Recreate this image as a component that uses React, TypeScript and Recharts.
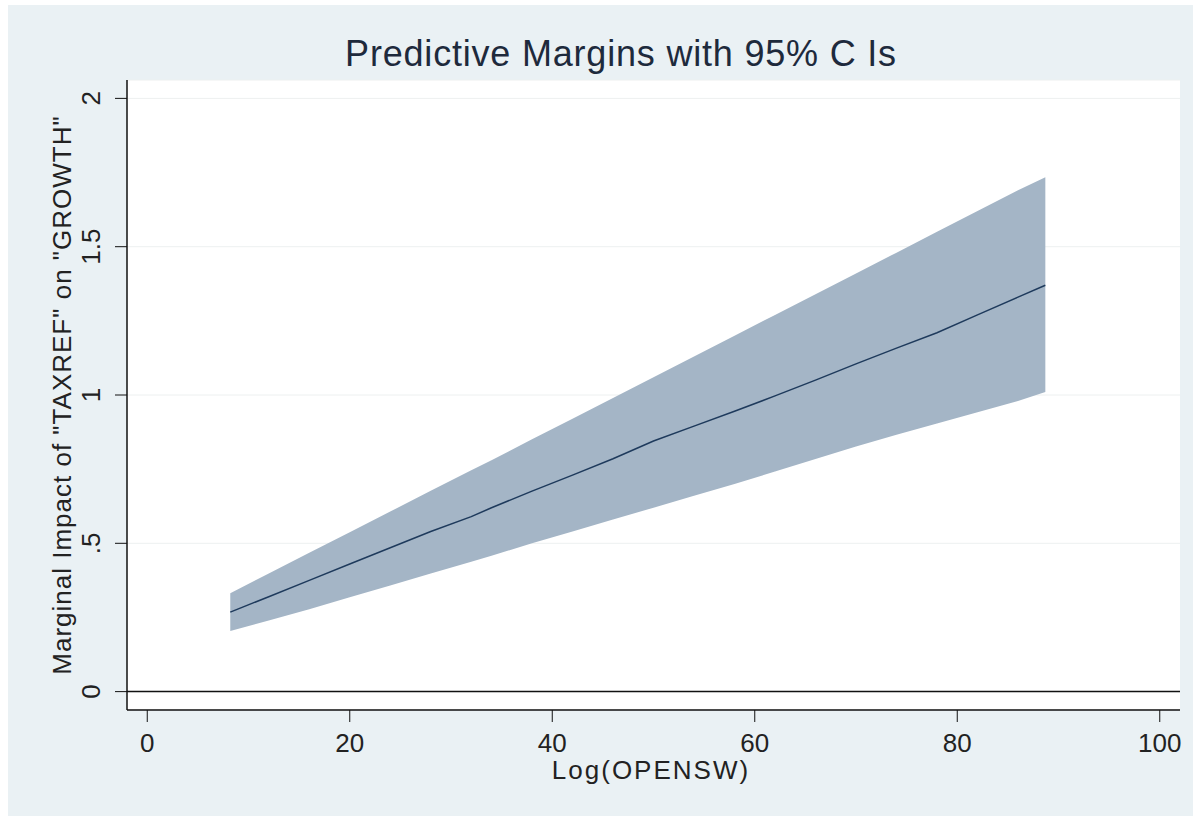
import {
  Area,
  CartesianGrid,
  ComposedChart,
  Line,
  ReferenceLine,
  XAxis,
  YAxis,
} from "recharts";

// values
const openness = [8.2, 12, 16, 20, 24, 28, 32, 34, 38, 42, 46, 50, 54, 58, 62, 66, 70, 74, 78, 82, 86, 88.7];
const margin = [0.268, 0.32, 0.375, 0.43, 0.485, 0.54, 0.59, 0.62, 0.676, 0.73, 0.785, 0.845, 0.895, 0.945, 0.997, 1.05, 1.105, 1.158, 1.21, 1.27, 1.33, 1.37];
const ciUpper = [0.332, 0.398, 0.468, 0.537, 0.607, 0.677, 0.746, 0.78, 0.851, 0.92, 0.99, 1.06, 1.13, 1.2, 1.27, 1.34, 1.41, 1.48, 1.55, 1.62, 1.69, 1.734];
const ciLower = [0.204, 0.24, 0.278, 0.318, 0.358, 0.398, 0.438, 0.458, 0.5, 0.54, 0.58, 0.62, 0.66, 0.7, 0.742, 0.784, 0.826, 0.866, 0.904, 0.942, 0.98, 1.01];

const xTicks = [0, 20, 40, 60, 80, 100];
const yTicks = [0, 0.5, 1, 1.5, 2];

const data = openness.map((x, i) => ({
  x,
  margin: margin[i],
  ci: [ciLower[i], ciUpper[i]],
}));

const FONT = "'Liberation Sans', Arial, sans-serif";
const BG = "#EAF1F4";

const fmtY = (v: number) => (v === 0.5 ? ".5" : String(v));

function XTick(props: any) {
  const { x, payload } = props;
  return (
    <text x={x} y={752} textAnchor="middle" fontFamily={FONT} fontSize={26} fill="#222">
      {payload.value}
    </text>
  );
}

function YTick(props: any) {
  const { y, payload } = props;
  return (
    <text
      x={100}
      y={y}
      textAnchor="middle"
      fontFamily={FONT}
      fontSize={26}
      fill="#222"
      transform={`rotate(-90, 100, ${y})`}
    >
      {fmtY(payload.value)}
    </text>
  );
}

export default function App() {
  return (
    <div style={{ position: "absolute", left: 0, top: 0, width: 1198, height: 816, background: "#fff" }}>
      <div style={{ position: "absolute", left: 8, top: 5, width: 1185, height: 811, background: BG }} />
      <div style={{ position: "absolute", left: 0, top: 0 }}>
        <ComposedChart width={1198} height={816} data={data} margin={{ top: 80, right: 18, bottom: 76, left: 67 }}>
          <CartesianGrid fill="#fff" vertical={false} stroke="#EDF0F0" />
          <XAxis
            dataKey="x"
            type="number"
            domain={[-2, 102]}
            ticks={xTicks}
            height={30}
            tickSize={12}
            axisLine={{ stroke: "#111", strokeWidth: 1.5 }}
            tickLine={{ stroke: "#111" }}
            tick={<XTick />}
          />
          <YAxis
            type="number"
            domain={[-0.062, 2.062]}
            ticks={yTicks}
            width={60}
            tickSize={12}
            axisLine={{ stroke: "#111", strokeWidth: 1.5 }}
            tickLine={{ stroke: "#111" }}
            tick={<YTick />}
          />
          <ReferenceLine y={0} stroke="#111" strokeWidth={1.5} />
          <Area
            type="linear"
            dataKey="ci"
            stroke="none"
            fill="#A4B5C6"
            fillOpacity={1}
            isAnimationActive={false}
          />
          <Line
            type="linear"
            dataKey="margin"
            stroke="#1E3A5C"
            strokeWidth={1.5}
            dot={false}
            isAnimationActive={false}
          />
        </ComposedChart>
      </div>
      <div
        style={{
          position: "absolute",
          left: 0,
          width: 1242,
          top: 34,
          textAlign: "center",
          fontFamily: FONT,
          fontSize: 36,
          letterSpacing: 0.8,
          lineHeight: "40px",
          color: "#1E2A3C",
          whiteSpace: "nowrap",
        }}
      >
        Predictive Margins with 95% C Is
      </div>
      <div
        style={{
          position: "absolute",
          left: 551,
          width: 200,
          top: 755,
          textAlign: "center",
          fontFamily: FONT,
          fontSize: 26,
          letterSpacing: 2,
          lineHeight: "30px",
          color: "#222",
          whiteSpace: "nowrap",
        }}
      >
        Log(OPENSW)
      </div>
      <div
        style={{
          position: "absolute",
          left: 62 - 300,
          top: 395 - 15,
          width: 600,
          textAlign: "center",
          fontFamily: FONT,
          fontSize: 26,
          letterSpacing: 1,
          lineHeight: "30px",
          color: "#222",
          transform: "rotate(-90deg)",
          whiteSpace: "nowrap",
        }}
      >
        Marginal Impact of "TAXREF" on "GROWTH"
      </div>
    </div>
  );
}
